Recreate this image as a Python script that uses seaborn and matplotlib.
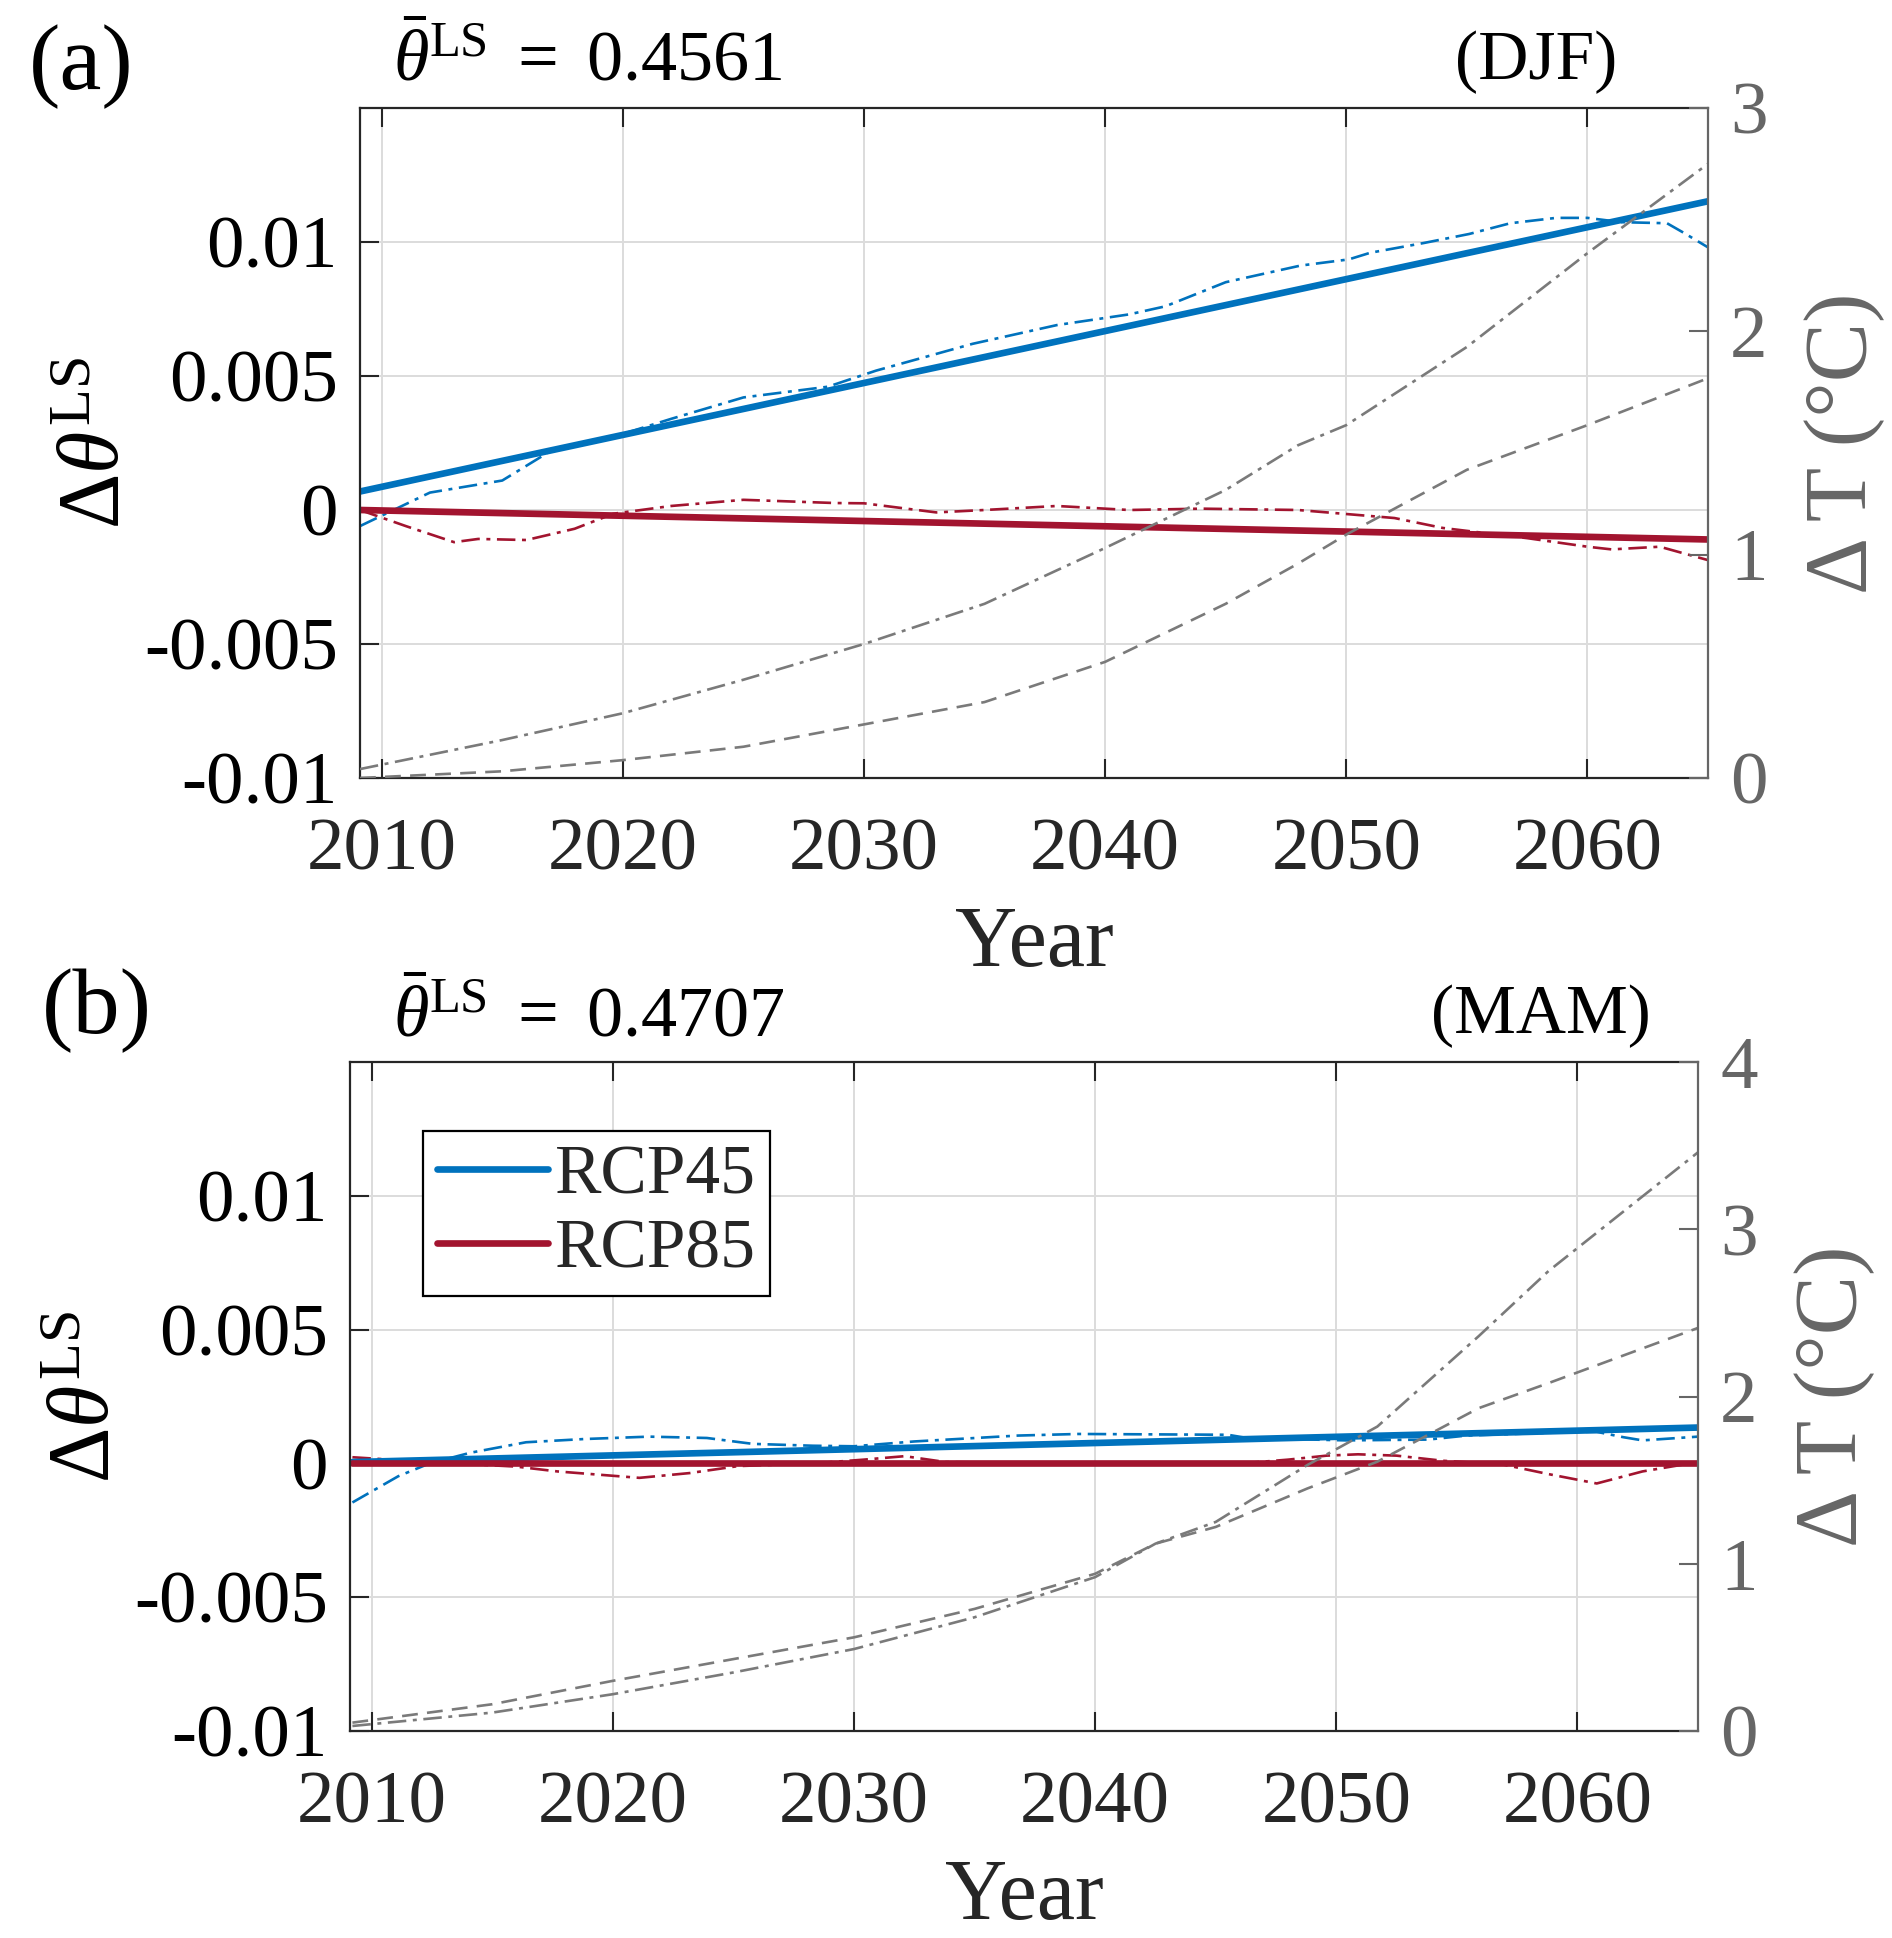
import matplotlib
matplotlib.use("Agg")
import matplotlib.pyplot as plt
from matplotlib.lines import Line2D
import seaborn as sns

# ---------------- data ----------------
x_ticks = [2010, 2020, 2030, 2040, 2050, 2060]
x_ticklabels = ["2010", "2020", "2030", "2040", "2050", "2060"]
y_ticks = [-0.01, -0.005, 0, 0.005, 0.01]
y_ticklabels = ["-0.01", "-0.005", "0", "0.005", "0.01"]
t_ticks_a = [0, 1, 2, 3]
t_ticks_b = [0, 1, 2, 3, 4]

# Panel (a) DJF
a_trend_x = [2009.1, 2065]
a_trend45 = [0.00069, 0.01152]
a_trend85 = [0.0, -0.0011]

a_obs45_x = [2009.1, 2012, 2015, 2017, 2019.5, 2022, 2025, 2028.5, 2030.5, 2034.5,
             2038, 2041, 2042.5, 2045, 2048.1, 2050.1, 2051, 2053.2, 2055.1, 2056.8,
             2058.7, 2060, 2061.4, 2063.3, 2064, 2065]
a_obs45 = [-0.0006, 0.00065, 0.0011, 0.0022, 0.0027, 0.0034, 0.0042, 0.0046, 0.0052, 0.0062,
           0.0069, 0.0073, 0.0076, 0.0085, 0.00912, 0.00935, 0.0096, 0.00996, 0.0103, 0.0107,
           0.0109, 0.0109, 0.01074, 0.0107, 0.01034, 0.0098]

a_obs85_x = [2009.1, 2011, 2013, 2014, 2016, 2018, 2019.6, 2022, 2025, 2028.8, 2030,
             2033, 2035, 2038, 2041, 2044, 2048, 2052, 2054, 2057.5, 2060, 2061, 2063, 2065]
a_obs85 = [0.0, -0.0006, -0.0012, -0.00108, -0.00112, -0.0007, -0.00014, 0.00015, 0.00038,
           0.00026, 0.00025, -0.00009, 0.0, 0.00015, 0.0, 0.00005, 0.0, -0.0003, -0.00067,
           -0.00105, -0.00137, -0.00147, -0.00137, -0.00187]

a_T_x = [2009.1, 2015, 2020, 2025, 2030, 2035, 2040, 2045, 2048, 2050, 2055, 2060, 2065]
a_T85 = [0.04, 0.17, 0.29, 0.44, 0.60, 0.78, 1.03, 1.29, 1.49, 1.58, 1.93, 2.35, 2.75]
a_T45 = [0.0, 0.03, 0.08, 0.14, 0.24, 0.34, 0.52, 0.78, 0.96, 1.09, 1.38, 1.58, 1.79]

# Panel (b) MAM
b_trend_x = [2009.2, 2065]
b_trend45 = [0.00005, 0.00134]
b_trend85 = [0.0, 0.0]

b_obs45_x = [2009.2, 2011.1, 2012.4, 2014.1, 2016.4, 2018.8, 2021.5, 2023.9, 2025.8, 2028.3,
             2030, 2032.5, 2036.8, 2039.3, 2045.5, 2046.3, 2050.4, 2053.8, 2055.4, 2060,
             2060.8, 2061.9, 2062.7, 2065]
b_obs45 = [-0.00146, -0.00048, 0.0, 0.0004, 0.00079, 0.00091, 0.001, 0.00095, 0.00073, 0.00066,
           0.00064, 0.00082, 0.00104, 0.0011, 0.00107, 0.00095, 0.00086, 0.00089, 0.00104, 0.00118,
           0.00118, 0.00098, 0.00086, 0.001]

b_obs85_x = [2009.2, 2012.4, 2016, 2017.7, 2021.1, 2023.2, 2025.2, 2028.3, 2030.4, 2032.1,
             2033.8, 2039.2, 2045.5, 2048, 2049.6, 2050.9, 2052.5, 2054.4, 2056.9, 2058.8,
             2060.8, 2062.7, 2065]
b_obs85 = [0.00023, 0.00005, -0.00012, -0.0003, -0.00054, -0.00036, -0.0001, 0.0, 0.00014, 0.00027,
           0.00005, 0.0, -0.00004, 0.00014, 0.00029, 0.00034, 0.00029, 0.0001, -0.00004, -0.0004,
           -0.00075, -0.0003, 0.00005]

b_T_x = [2009.2, 2015, 2020, 2025, 2030, 2035, 2040, 2042.5, 2045, 2048.8, 2051.7, 2055.9, 2058.8, 2065]
b_T85 = [0.03, 0.11, 0.22, 0.35, 0.49, 0.68, 0.92, 1.12, 1.25, 1.59, 1.82, 2.36, 2.75, 3.46]
b_T45 = [0.05, 0.16, 0.30, 0.43, 0.56, 0.73, 0.94, 1.12, 1.22, 1.45, 1.61, 1.93, 2.08, 2.41]

series_names = ["RCP45", "RCP85"]
theta_a = r"$\bar{\theta}^{\mathrm{LS}}\ =\ 0.4561$"
theta_b = r"$\bar{\theta}^{\mathrm{LS}}\ =\ 0.4707$"

# ---------------- style ----------------
sns.set_theme(style="white")
plt.rcParams["font.family"] = ["Liberation Serif", "DejaVu Serif"]
plt.rcParams["mathtext.fontset"] = "custom"
plt.rcParams["mathtext.rm"] = "Liberation Serif"
plt.rcParams["mathtext.it"] = "Liberation Serif:italic"
plt.rcParams["mathtext.bf"] = "Liberation Serif:bold"

BLUE = "#0072BD"
RED = "#A2142F"
GRAY = "#7a7a7a"
TGRAY = "#666666"
DARK = "#262626"

FS_TICK = 54
FS_LAB = 60

fig = plt.figure(figsize=(18.92, 19.38), dpi=100)
ax_a = fig.add_axes([360 / 1892, 1 - 778 / 1938, 1348 / 1892, 670 / 1938])
ax_b = fig.add_axes([350 / 1892, 1 - 1731 / 1938, 1348 / 1892, 669 / 1938])

DASHDOT = (0, (7, 2.5, 1.5, 2.5))
DASHED = (0, (6, 3.5))


def panel(ax, tx, t45, t85, ox45, o45, ox85, o85, Tx, T45, T85, tticks, tmax):
    ax.set_axisbelow(True)
    ax.grid(True, color="#dcdcdc", linewidth=1.4)
    sns.lineplot(x=ox45, y=o45, ax=ax, color=BLUE, linewidth=1.9, linestyle=DASHDOT,
                 estimator=None, sort=False)
    sns.lineplot(x=ox85, y=o85, ax=ax, color=RED, linewidth=1.9, linestyle=DASHDOT,
                 estimator=None, sort=False)
    sns.lineplot(x=tx, y=t45, ax=ax, color=BLUE, linewidth=4.8, estimator=None, sort=False)
    sns.lineplot(x=tx, y=t85, ax=ax, color=RED, linewidth=4.8, estimator=None, sort=False)
    ax.set_xlim(2009.1, 2065)
    ax.set_ylim(-0.01, 0.015)
    ax.set_xticks(x_ticks)
    ax.set_xticklabels(x_ticklabels)
    ax.set_yticks(y_ticks)
    ax.set_yticklabels(y_ticklabels)
    ax.tick_params(axis="x", direction="in", length=14, width=1.5, labelsize=FS_TICK,
                   top=True, bottom=True, pad=29, colors=DARK)
    ax.tick_params(axis="y", direction="in", length=14, width=1.5, labelsize=FS_TICK,
                   left=True, right=False, pad=16, colors=DARK, labelcolor="black")
    for s in ["left", "bottom", "top"]:
        ax.spines[s].set_color(DARK)
        ax.spines[s].set_linewidth(1.6)
    ax.spines["right"].set_visible(False)
    ax.set_xlabel("Year", fontsize=FS_LAB + 2, color=DARK, labelpad=14)
    ax.set_ylabel(r"$\Delta\theta^{\mathrm{LS}}$", fontsize=FS_LAB + 2, color="black", labelpad=4)

    ax2 = ax.twinx()
    sns.lineplot(x=Tx, y=T85, ax=ax2, color=GRAY, linewidth=1.9, linestyle=DASHDOT,
                 estimator=None, sort=False)
    sns.lineplot(x=Tx, y=T45, ax=ax2, color=GRAY, linewidth=1.9, linestyle=DASHED,
                 estimator=None, sort=False)
    ax2.set_xlim(2009.1, 2065)
    ax2.set_ylim(0, tmax)
    ax2.set_yticks(tticks)
    ax2.set_yticklabels([str(t) for t in tticks])
    ax2.tick_params(axis="y", direction="in", length=14, width=1.5, labelsize=FS_TICK,
                    right=True, left=False, pad=16, colors=TGRAY)
    for s in ["left", "bottom", "top"]:
        ax2.spines[s].set_visible(False)
    ax2.spines["right"].set_color(TGRAY)
    ax2.spines["right"].set_linewidth(1.6)
    ax2.set_ylabel("Δ T (°C)", fontsize=FS_LAB + 4, color=TGRAY, rotation=90, labelpad=26)
    return ax2


panel(ax_a, a_trend_x, a_trend45, a_trend85, a_obs45_x, a_obs45, a_obs85_x, a_obs85,
      a_T_x, a_T45, a_T85, t_ticks_a, 3)
panel(ax_b, b_trend_x, b_trend45, b_trend85, b_obs45_x, b_obs45, b_obs85_x, b_obs85,
      b_T_x, b_T45, b_T85, t_ticks_b, 4)

handles = [Line2D([], [], color=BLUE, linewidth=4.8),
           Line2D([], [], color=RED, linewidth=4.8)]
leg = ax_b.legend(handles, series_names, loc="upper left", bbox_to_anchor=(0.054, 0.897),
                  borderaxespad=0, fontsize=50, frameon=True, fancybox=False,
                  handlelength=1.6, handletextpad=0.1, borderpad=0.2, labelspacing=0.15,
                  edgecolor="black", framealpha=1)
leg.get_frame().set_linewidth(1.6)
leg.set_zorder(10)

# panel annotations
fig.text(0.015, 0.9655, "(a)", fontsize=68, va="center", ha="left", color="black")
fig.text(0.2077, 0.9587, theta_a, fontsize=52, va="baseline", ha="left", color="black")
fig.text(0.8547, 0.968, "(DJF)", fontsize=50, va="center", ha="right", color="black")
fig.text(0.022, 0.4783, "(b)", fontsize=68, va="center", ha="left", color="black")
fig.text(0.2077, 0.4654, theta_b, fontsize=52, va="baseline", ha="left", color="black")
fig.text(0.8726, 0.4757, "(MAM)", fontsize=50, va="center", ha="right", color="black")

fig.savefig("out.png", dpi=100)
